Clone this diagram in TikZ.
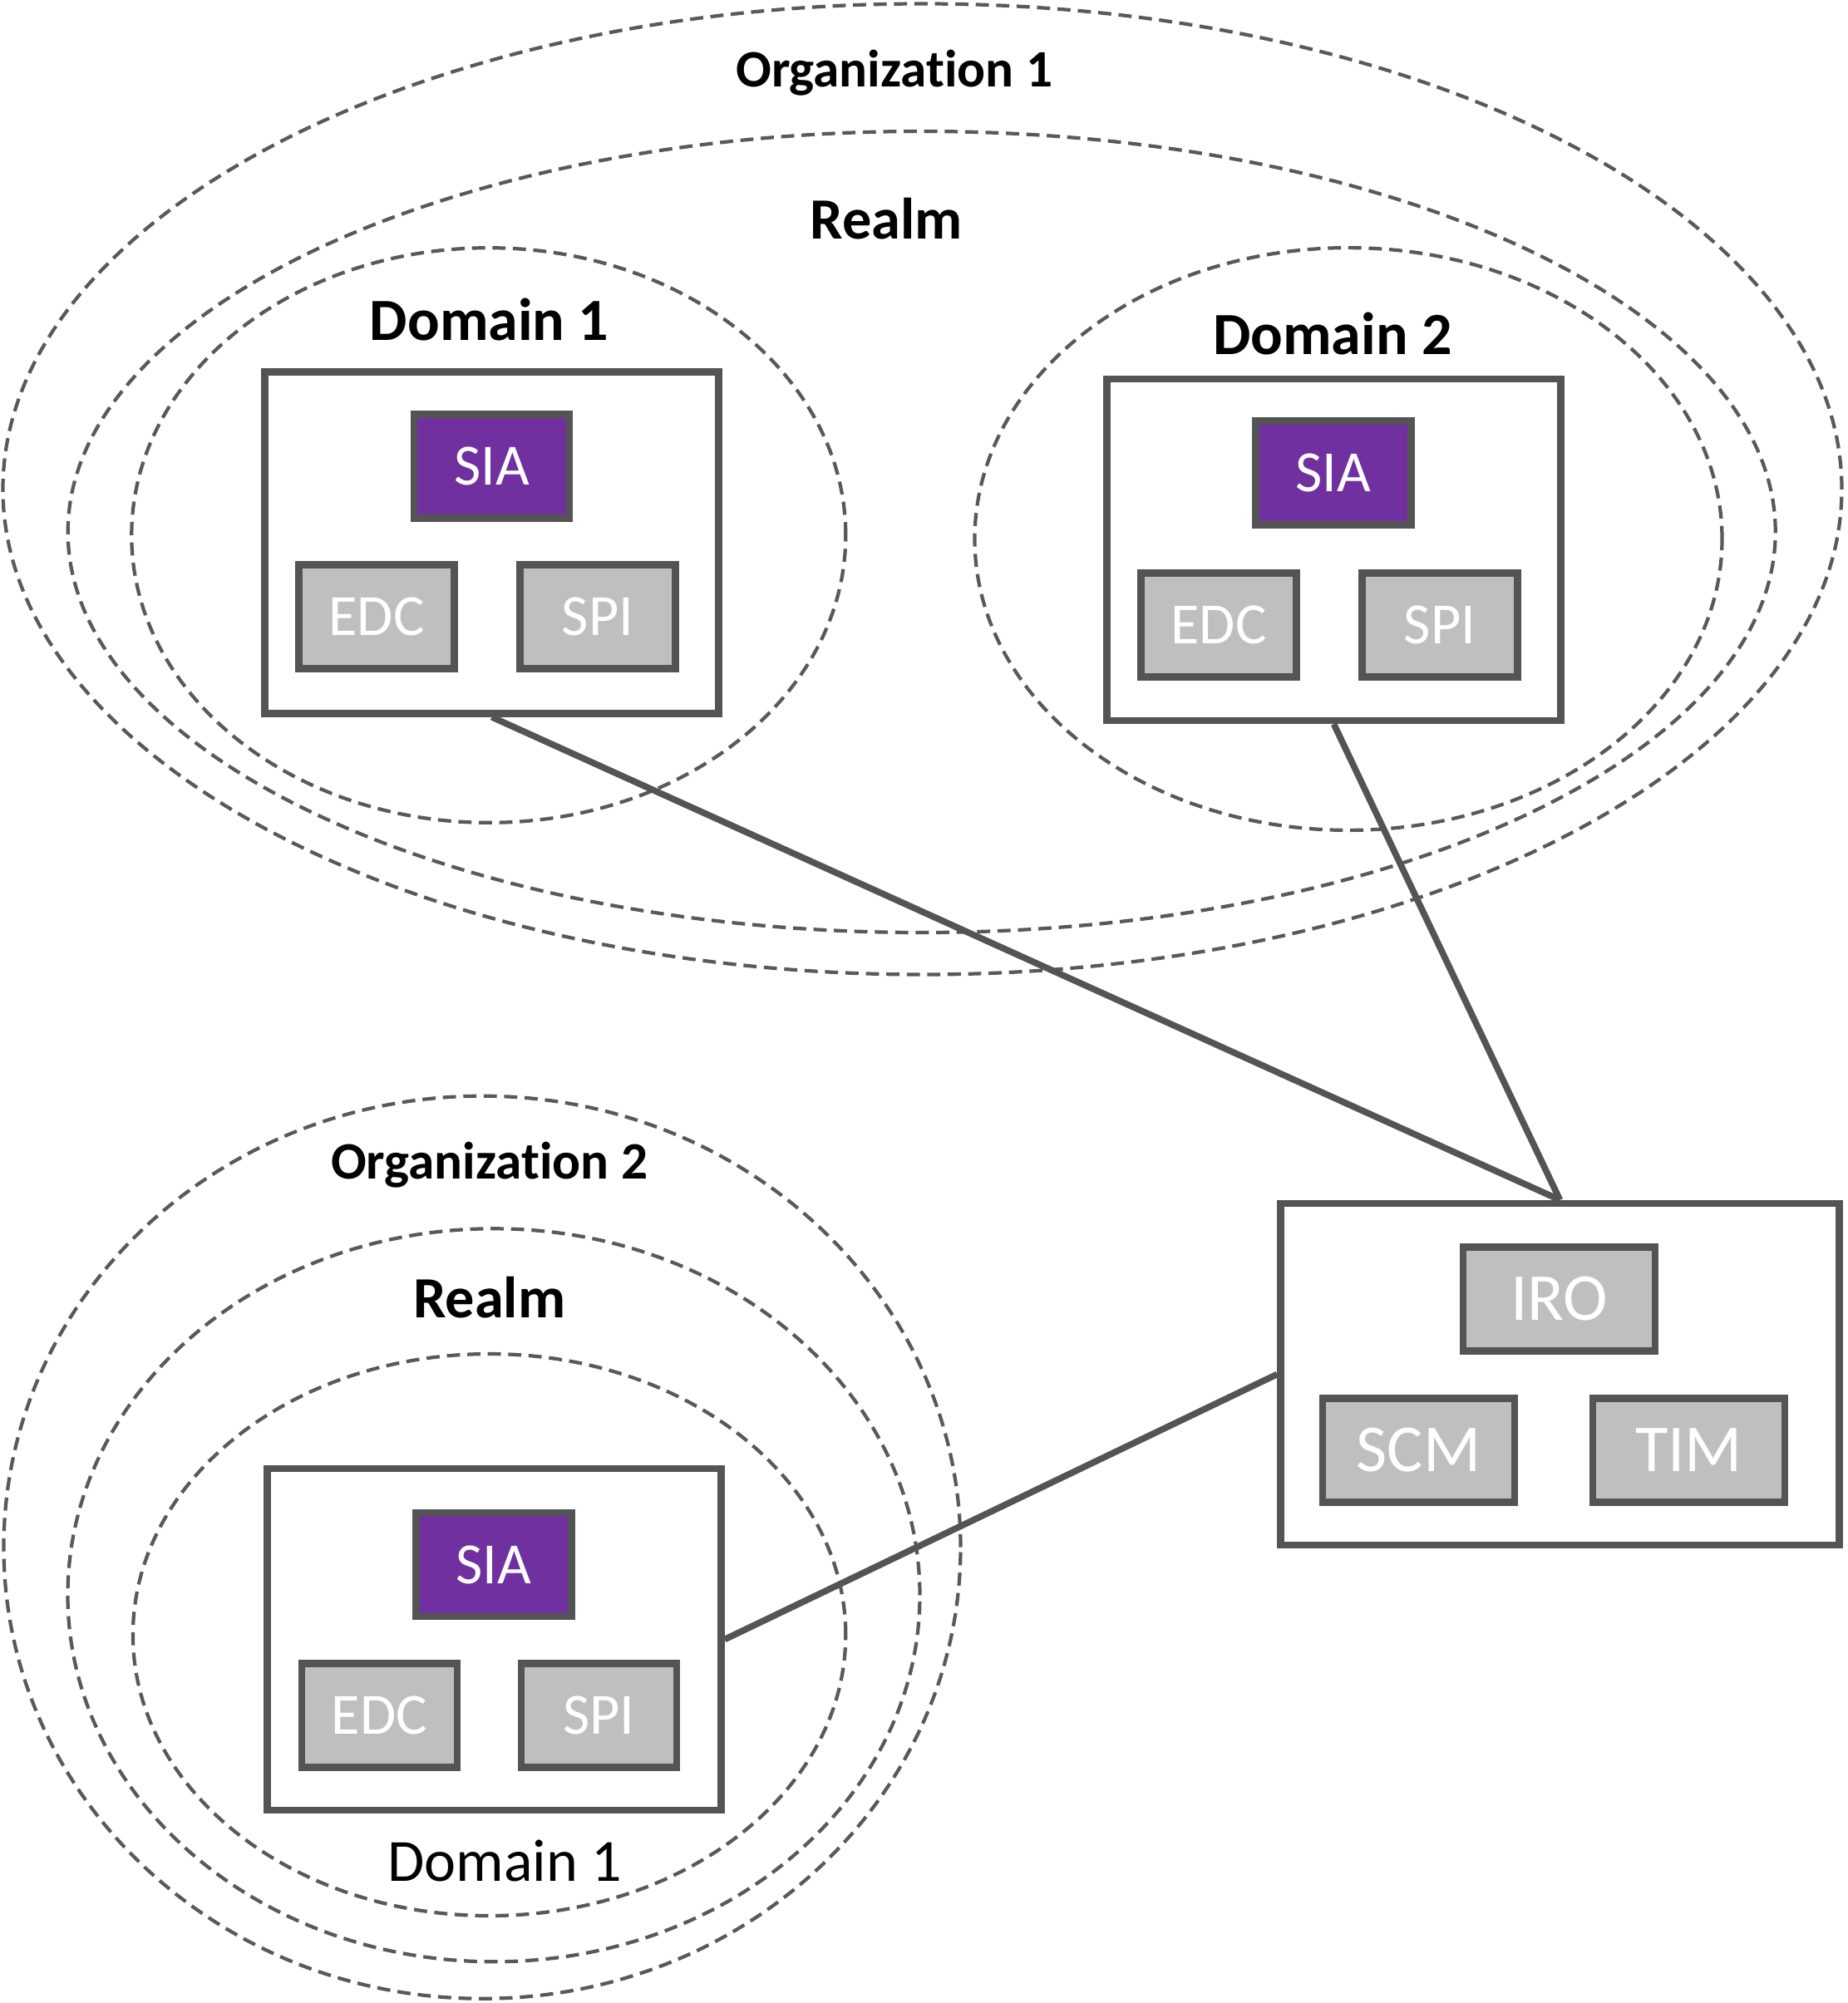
\documentclass[tikz,border=0pt]{standalone}
\usepackage{fontspec}
\setmainfont{Carlito}[Ligatures=CommonOff]
\usepackage{xcolor}
\usepackage{tikz}
\usetikzlibrary{shapes,arrows}

\definecolor{edgegray}{HTML}{545454}
\definecolor{dashgray}{HTML}{595959}
\definecolor{siapurple}{HTML}{7030A0}
\definecolor{compgray}{HTML}{BFBFBF}

\begin{document}
\begin{tikzpicture}[
    zone/.style = {draw = dashgray, dash pattern = on 4.5pt off 2.5pt, line width = 1.2pt},
    host/.style = {rectangle, draw = edgegray, line width = 2.4pt, fill = white, minimum width = 5.46cm, minimum height = 4.11cm},
    comp/.style = {rectangle, draw = edgegray, line width = 2.4pt, fill = compgray, text = white, minimum width = 1.87cm, minimum height = 1.25cm, inner sep = 0pt, font = \fontsize{20}{24}\selectfont},
    sia/.style = {comp, fill = siapurple},
    bigcomp/.style = {comp, minimum width = 2.31cm, font = \fontsize{23}{27}\selectfont},
    link/.style = {draw = edgegray, line width = 2.2pt},
    title/.style = {font = \bfseries\fontsize{20.5}{24}\selectfont}
]
    \useasboundingbox (0,0) rectangle (22.22,-24.10);

    % organization 1
    \draw[zone] (11.095,-5.885) ellipse (11.06 and 5.84);
    \draw[zone] (11.087,-6.40) ellipse (10.27 and 4.82);
    \draw[zone] (5.878,-6.44) ellipse (4.295 and 3.458);
    \draw[zone] (16.22,-6.485) ellipse (4.495 and 3.504);

    \node (org1) [font = \bfseries\fontsize{18}{22}\selectfont] at (10.757,-0.876) {Organization 1};
    \node (realm1) [title, font = \bfseries\fontsize{20}{24}\selectfont] at (10.665,-2.628) {Realm};
    \node (dom1) [title] at (5.886,-3.84) {Domain 1};
    \node (dom2) [title] at (16.028,-4.01) {Domain 2};

    \node (d1) [host] at (5.915,-6.53) {};
    \node (sia1) [sia] at (5.915,-5.61) {SIA};
    \node (edc1) [comp] at (4.53,-7.42) {EDC};
    \node (spi1) [comp] at (7.19,-7.42) {SPI};

    \node (d2) [host] at (16.045,-6.615) {};
    \node (sia2) [sia] at (16.04,-5.69) {SIA};
    \node (edc2) [comp] at (14.66,-7.52) {EDC};
    \node (spi2) [comp] at (17.32,-7.52) {SPI};

    % organization 2
    \draw[zone] (5.80,-18.617) ellipse (5.755 and 5.43);
    \draw[zone] (5.94,-19.193) ellipse (5.125 and 4.41);
    \draw[zone] (5.886,-19.67) ellipse (4.287 and 3.38);

    \node (org2) [font = \bfseries\fontsize{18}{22}\selectfont] at (5.886,-14.015) {Organization 2};
    \node (realm2) [title, font = \bfseries\fontsize{20}{24}\selectfont] at (5.886,-15.61) {Realm};
    \node (dom3) [font = \fontsize{20.5}{24}\selectfont] at (6.07,-22.39) {Domain 1};

    \node (d3) [host] at (5.945,-19.725) {};
    \node (sia3) [sia] at (5.94,-18.825) {SIA};
    \node (edc3) [comp] at (4.565,-20.64) {EDC};
    \node (spi3) [comp] at (7.205,-20.64) {SPI};

    % hub
    \node (hub) [host, minimum width = 6.72cm] at (18.765,-16.535) {};
    \node (iro) [bigcomp] at (18.755,-15.63) {IRO};
    \node (scm) [bigcomp] at (17.065,-17.45) {SCM};
    \node (tim) [bigcomp] at (20.315,-17.45) {TIM};

    \draw[link] (d1.south) -- (hub.north);
    \draw[link] (d2.south) -- (hub.north);
    \draw[link] (d3.east) -- (hub.west);
\end{tikzpicture}
\end{document}
